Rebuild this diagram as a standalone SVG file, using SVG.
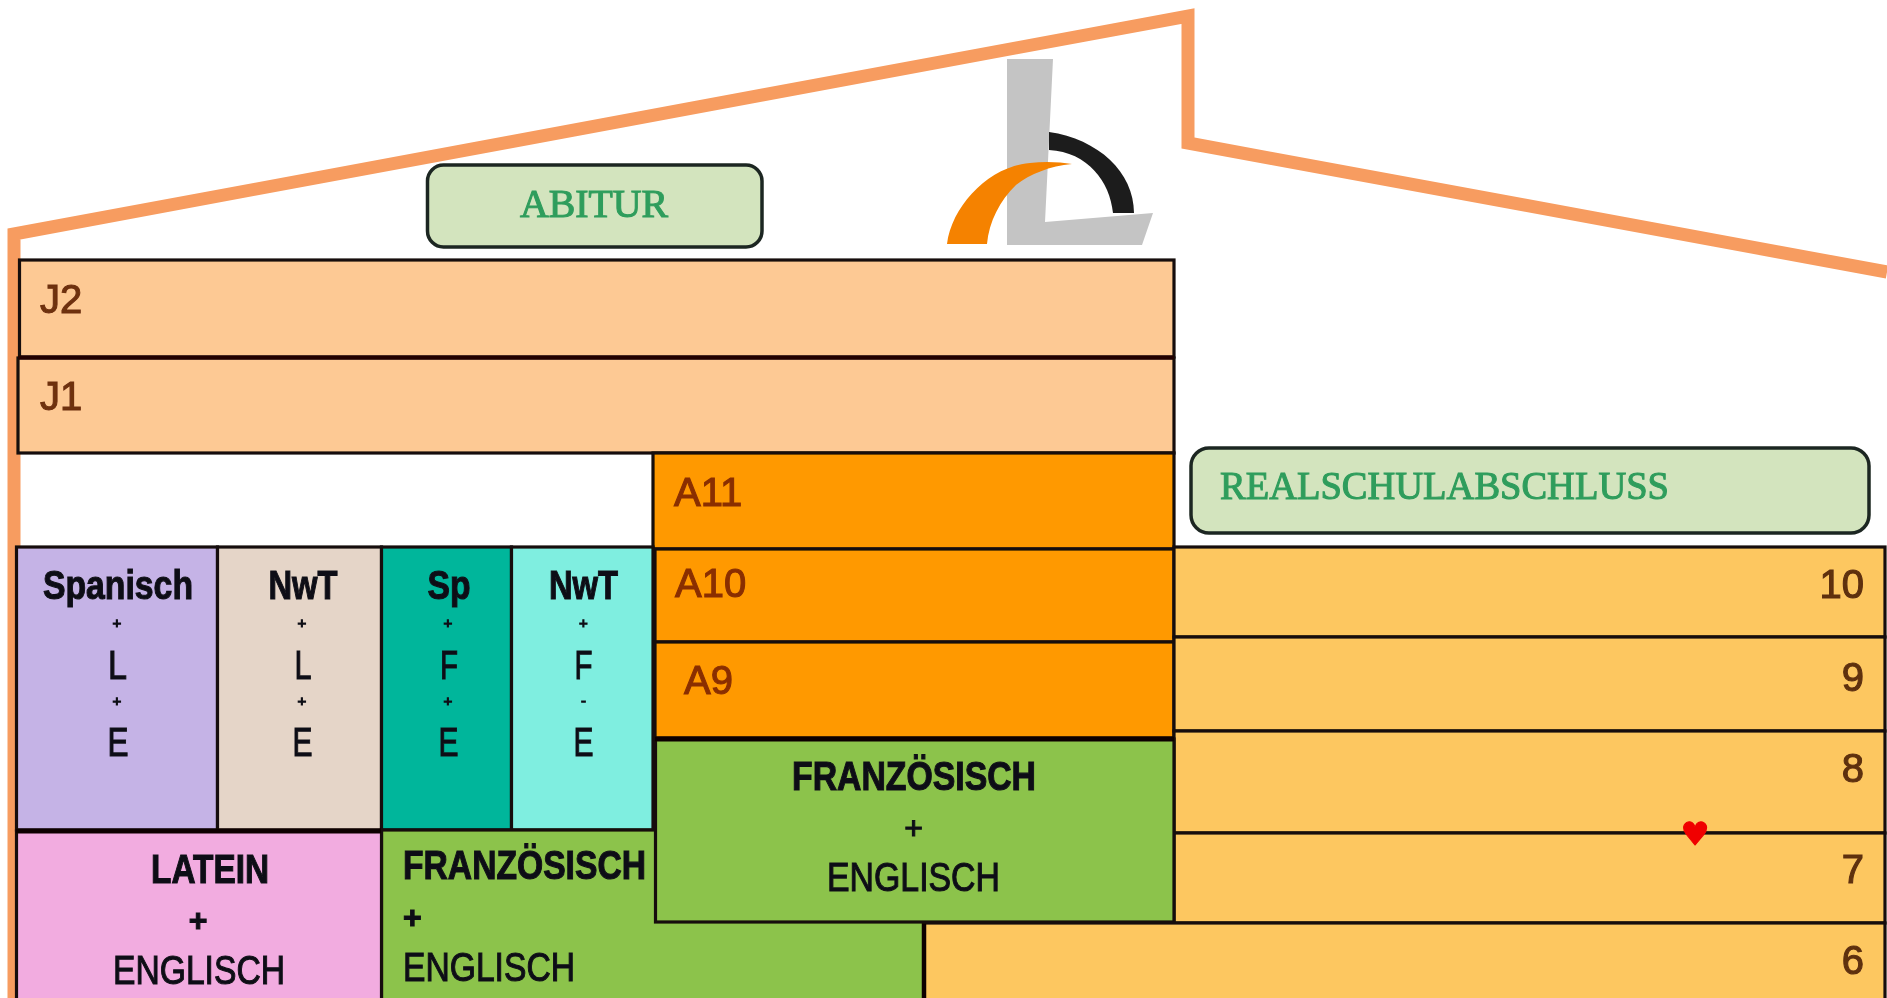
<svg xmlns="http://www.w3.org/2000/svg" width="1887" height="998" viewBox="0 0 1887 998">
<defs>
<filter id="soft" x="-2%" y="-2%" width="104%" height="104%"><feGaussianBlur stdDeviation="0.7"/></filter>
</defs>
<style>
text{font-family:"Liberation Sans",Arial,sans-serif;font-size:40px;fill:#111118;stroke:#111118;stroke-width:1.1px}
.c{text-anchor:middle}
.r{text-anchor:end}
.b{font-weight:bold}
.yr{fill:#6e3010;stroke:#6e3010}
.ar{fill:#8a2f00;stroke:#8a2f00}
.rw{fill:#5e3010;stroke:#5e3010}
.sm{font-size:15px}
.pl{font-size:32px}
.ser{font-family:"Liberation Serif","Times New Roman",serif;fill:#2f9d5c;stroke:#2f9d5c}
.box{stroke:#140e0a;stroke-width:3.2}
.pill{fill:#d3e4be;stroke:#1e2822;stroke-width:3.5}
.j{fill:#fdc994}.a{fill:#ff9900}.y{fill:#fdc761}.g{fill:#8cc34b}
</style>
<g filter="url(#soft)">
<rect width="1887" height="998" fill="#fff"/>
<g id="outline"><path d="M14 998V234L1188 16V143L1887 272" fill="none" stroke="#f79c60" stroke-width="13" stroke-linejoin="miter"/></g>
<g id="logo">
<path d="M1007 59H1053L1045 222L1153 213L1142 245H1007Z" fill="#c4c4c4"/>
<path d="M1049 132C1098 139 1134 172 1134 213H1113C1110 182 1088 152 1049 150Z" fill="#1c1c1c"/>
<path d="M947 244C952 205 990 166 1030 163C1045 161 1060 162 1072 164C1050 166 1030 174 1016 185C1000 200 989 222 987 244Z" fill="#f58200"/>
</g>
<g id="abitur"><rect class="pill" x="427.5" y="165" width="334.5" height="82" rx="16"/><text class="ser c" x="594" y="217" textLength="148" lengthAdjust="spacingAndGlyphs">ABITUR</text></g>
<g id="realschulabschluss"><rect class="pill" x="1191" y="448" width="678" height="85" rx="18"/><text class="ser" x="1220" y="499" textLength="449" lengthAdjust="spacingAndGlyphs">REALSCHULABSCHLUSS</text></g>
<g id="j2"><rect class="box j" x="19.5" y="260" width="1154.5" height="97"/><text class="yr" x="40" y="313">J2</text></g>
<g id="j1"><rect class="box j" x="18" y="358" width="1156" height="95"/><text class="yr" x="40" y="410">J1</text><path d="M18 357.500H1174" stroke="#200" stroke-width="4"/></g>
<g id="a11"><rect class="box a" x="653" y="453" width="521" height="96"/><text class="ar" x="674" y="506">A11</text></g>
<g id="a10"><rect class="box a" x="655" y="549" width="519" height="93"/><text class="ar" x="675" y="597">A10</text></g>
<g id="a9"><rect class="box a" x="655" y="642" width="519" height="96"/><text class="ar" x="684" y="694">A9</text></g>
<g id="r10"><rect class="box y" x="1174" y="547" width="711" height="90"/><text class="rw r" x="1864" y="598">10</text></g>
<g id="r9"><rect class="box y" x="1174" y="637" width="711" height="94"/><text class="rw r" x="1864" y="691">9</text></g>
<g id="r8"><rect class="box y" x="1174" y="731" width="711" height="102"/><text class="rw r" x="1864" y="782">8</text></g>
<g id="r7"><rect class="box y" x="1174" y="833" width="711" height="90"/><text class="rw r" x="1864" y="883">7</text></g>
<g id="r6"><rect class="box y" x="924" y="923" width="961" height="80"/><text class="rw r" x="1864" y="974">6</text></g>
<g id="spanisch"><rect class="box" fill="#c5b3e6" x="16.500" y="547" width="201" height="283"/>
<text class="b c" x="118" y="599" textLength="150" lengthAdjust="spacingAndGlyphs">Spanisch</text><text class="sm c" x="117" y="628">+</text><text class="c" x="117.500" y="679" textLength="19" lengthAdjust="spacingAndGlyphs">L</text><text class="sm c" x="117" y="706">+</text><text class="c" x="118" y="756" textLength="21" lengthAdjust="spacingAndGlyphs">E</text></g>
<g id="nwt-l"><rect class="box" fill="#e5d5c8" x="217.500" y="547" width="164" height="283"/>
<text class="b c" x="303" y="599" textLength="69" lengthAdjust="spacingAndGlyphs">NwT</text><text class="sm c" x="302" y="628">+</text><text class="c" x="303" y="679" textLength="17" lengthAdjust="spacingAndGlyphs">L</text><text class="sm c" x="302" y="706">+</text><text class="c" x="302.500" y="756" textLength="20" lengthAdjust="spacingAndGlyphs">E</text></g>
<g id="sp"><rect class="box" fill="#00b69b" x="381.500" y="547" width="130" height="283"/>
<text class="b c" x="449" y="599" textLength="43" lengthAdjust="spacingAndGlyphs">Sp</text><text class="sm c" x="448" y="628">+</text><text class="c" x="449" y="679" textLength="18" lengthAdjust="spacingAndGlyphs">F</text><text class="sm c" x="448" y="706">+</text><text class="c" x="448.500" y="756" textLength="20" lengthAdjust="spacingAndGlyphs">E</text></g>
<g id="nwt-f"><rect class="box" fill="#7feee0" x="511.500" y="547" width="141.500" height="283"/>
<text class="b c" x="583.500" y="599" textLength="69" lengthAdjust="spacingAndGlyphs">NwT</text><text class="sm c" x="583.500" y="628">+</text><text class="c" x="583.500" y="679" textLength="18" lengthAdjust="spacingAndGlyphs">F</text><text class="sm c" x="583.500" y="706">-</text><text class="c" x="583.500" y="756" textLength="20" lengthAdjust="spacingAndGlyphs">E</text></g>
<g id="franz-left"><rect class="box g" x="381.500" y="830" width="542.500" height="173"/>
<text class="b" x="403" y="879" textLength="243" lengthAdjust="spacingAndGlyphs">FRANZÖSISCH</text><text class="pl b" x="403" y="928">+</text><text x="403" y="981" textLength="172" lengthAdjust="spacingAndGlyphs">ENGLISCH</text><path d="M924 923V998" stroke="#100" stroke-width="4.500"/></g>
<g id="latein"><rect class="box" fill="#f2ace0" x="16.500" y="831" width="365" height="172"/><path d="M16 831H381" stroke="#100" stroke-width="5"/>
<text class="b c" x="210" y="883" textLength="118" lengthAdjust="spacingAndGlyphs">LATEIN</text><text class="pl b c" x="198" y="931">+</text><text class="c" x="199" y="984" textLength="172" lengthAdjust="spacingAndGlyphs">ENGLISCH</text></g>
<g id="franz-right"><rect class="box g" x="655.500" y="739" width="518.500" height="183"/><path d="M655 739H1174" stroke="#100" stroke-width="5"/>
<text class="b c" x="914" y="790" textLength="244" lengthAdjust="spacingAndGlyphs">FRANZÖSISCH</text><text class="pl c" x="913.500" y="839">+</text><text class="c" x="913.500" y="891" textLength="173" lengthAdjust="spacingAndGlyphs">ENGLISCH</text></g>
<g id="heart"><text class="c" style="font-family:'DejaVu Sans',sans-serif;font-size:32px;fill:#f00000;stroke:#f00000" x="1695" y="845">♥</text></g>
</g>
</svg>
